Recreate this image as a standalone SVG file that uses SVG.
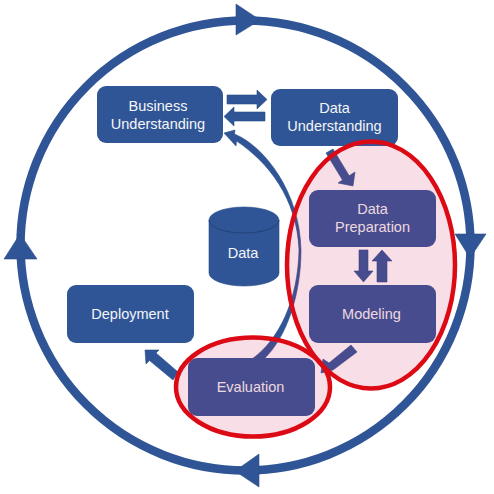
<svg xmlns="http://www.w3.org/2000/svg" width="494" height="494" viewBox="0 0 494 494">
<style>
.n{fill:#2f5597}
.t{font-family:"Liberation Sans",Arial,sans-serif;font-size:14.500px;fill:#f6f6f6;text-anchor:middle}
.a{fill:#2f5597;stroke:#2a4d88;stroke-width:.6}
.o{fill:#d0195a;fill-opacity:.145;stroke:#dc0a14;stroke-width:4.500}
</style>
<rect width="494" height="494" fill="#fff"/>
<g id="connectors">
<circle cx="245.500" cy="245.500" r="225" fill="none" stroke="#2f5597" stroke-width="8.500"/>
<polygon class="a" points="236,4 236,35 260,20"/>
<polygon class="a" points="455,234 486,234 470,258"/>
<polygon class="a" points="235,471 259,454 259,487"/>
<polygon class="a" points="20,234 4,259 37,259"/>
<polygon class="a" points="227,95 257,95 257,90 267,99.500 257,109 257,104 227,104"/>
<polygon class="a" points="265,112 234,112 234,107 224,116.500 234,126 234,121 265,121"/>
<path class="a" d="M224,133L235,130L234.500,134C264,146 300,192 301,250C301,296 286,338 264,359L252,359C279,340 298,300 299,250C297,198 268,162 236.500,141L236,146Z"/>
<polygon class="a" points="326,153 333,149 349.200,175.700 355,172 353,186 338,183 342.500,180"/>
<polygon class="a" points="359,250 368,250 368,271 373,271 363.500,282 354,271 359,271"/>
<polygon class="a" points="377,282 387,282 387,261 392,261 382,250 372,261 377,261"/>
<polygon class="a" points="351,345 357,352 333,370 321,373 323,359 329,363"/>
<polygon class="a" points="178,372 173,380 149.500,360.500 146,364 145,350 159,350 156,353"/>
</g>
<g id="data"><path class="n" d="M209,220A35,13 0 0 1 279,220V273A35,13 0 0 1 209,273Z" stroke="#2a4d88" stroke-width=".6"/><path d="M209,220A35,13 0 0 0 279,220" fill="none" stroke="#203c6c" stroke-width=".8"/><text class="t" x="243" y="258">Data</text></g>
<g id="business"><rect class="n" x="97" y="86" width="126" height="57" rx="9"/><text class="t" x="158" y="111">Business</text><text class="t" x="158" y="129">Understanding</text></g>
<g id="understanding"><rect class="n" x="271" y="89" width="127" height="57" rx="9"/><text class="t" x="334.500" y="113">Data</text><text class="t" x="334.500" y="131">Understanding</text></g>
<g id="preparation"><rect class="n" x="309" y="190" width="127" height="57" rx="9"/><text class="t" x="372.500" y="214">Data</text><text class="t" x="372.500" y="232">Preparation</text></g>
<g id="modeling"><rect class="n" x="309" y="285" width="127" height="58" rx="9"/><text class="t" x="371.500" y="319">Modeling</text></g>
<g id="evaluation"><rect class="n" x="188" y="358" width="127" height="58" rx="9"/><text class="t" x="250.500" y="392">Evaluation</text></g>
<g id="deployment"><rect class="n" x="67" y="285" width="127" height="58" rx="9"/><text class="t" x="130" y="319">Deployment</text></g>
<g id="highlights">
<ellipse class="o" cx="371" cy="265" rx="84" ry="123.500"/>
<ellipse class="o" cx="253" cy="387" rx="77" ry="49.500"/>
</g>
</svg>
